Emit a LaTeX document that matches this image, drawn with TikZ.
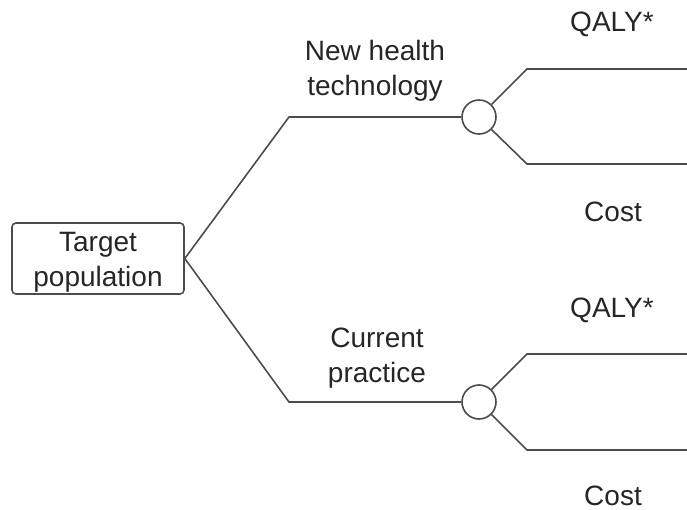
\documentclass[tikz,border=0pt]{standalone}
\usepackage{fontspec}
\setmainfont{Liberation Sans}
\usetikzlibrary{positioning}

\begin{document}
\begin{tikzpicture}[x=1pt,y=-1pt, line width=1.6pt, draw=black!70, text=black!85,
  every node/.style={font=\fontsize{28}{35}\selectfont},
  popbox/.style={draw=black!70, rectangle, rounded corners=4pt, minimum width=172pt, minimum height=71pt, inner sep=0pt, align=center, text height=62pt},
  chance/.style={draw=black!70, circle, minimum size=34pt, inner sep=0pt, fill=white},
  label/.style={inner sep=0pt, align=center}]
  \useasboundingbox (0,0) rectangle (687,510);

  \node[popbox] (pop) at (98,258.5) {Target\\population};
  \node[chance] (new) at (479,117) {};
  \node[chance] (cur) at (479,402) {};

  \coordinate (newbend) at (289,117);
  \coordinate (curbend) at (289,402);
  \coordinate (newq) at (527,69);   \coordinate (newqend) at (687,69);
  \coordinate (newc) at (527,164);  \coordinate (newcend) at (687,164);
  \coordinate (curq) at (527,354);  \coordinate (curqend) at (687,354);
  \coordinate (curc) at (527,450);  \coordinate (curcend) at (687,450);

  \draw[draw=black!70] (pop.east) -- (newbend) -- (new.west);
  \draw[draw=black!70] (pop.east) -- (curbend) -- (cur.west);
  \draw[draw=black!70] (new.north east) -- (newq) -- (newqend);
  \draw[draw=black!70] (new.south east) -- (newc) -- (newcend);
  \draw[draw=black!70] (cur.north east) -- (curq) -- (curqend);
  \draw[draw=black!70] (cur.south east) -- (curc) -- (curcend);

  \node[label] (newlab) at (375,71) {New health\\technology};
  \node[label] (curlab) at (377,358) {Current\\practice};
  \node[label, anchor=base] (newqaly) at (612,32) {QALY*};
  \node[label, anchor=base] (newcost) at (613,222) {Cost};
  \node[label, anchor=base] (curqaly) at (612,317) {QALY*};
  \node[label, anchor=base] (curcost) at (613,505) {Cost};
\end{tikzpicture}
\end{document}
